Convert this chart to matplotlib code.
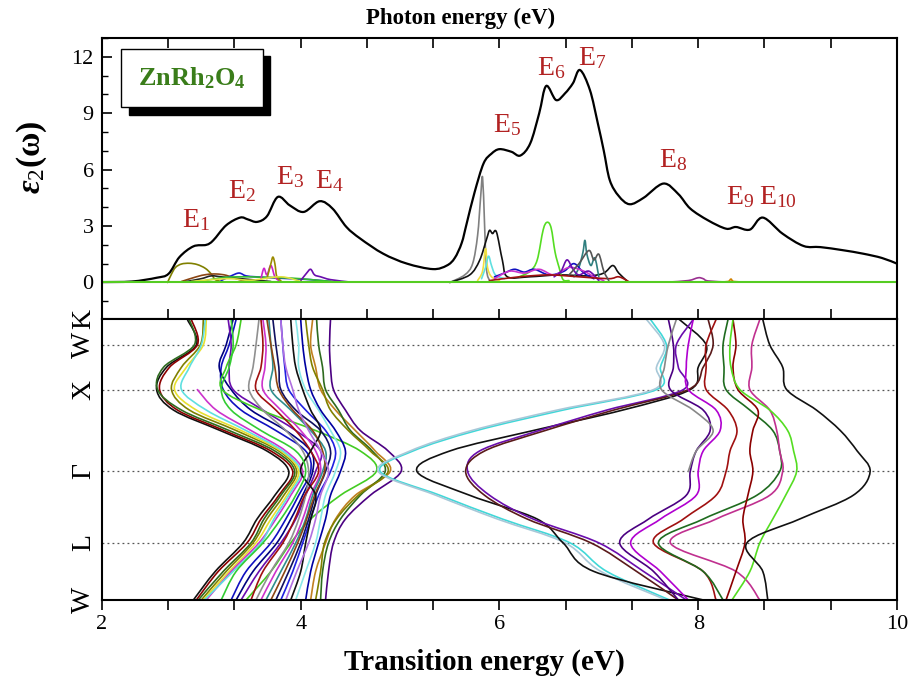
import numpy as np
import matplotlib.pyplot as plt
from matplotlib.patches import Rectangle, PathPatch
from matplotlib.path import Path
from matplotlib.ticker import MultipleLocator, FixedLocator

plt.rcParams['font.family'] = 'serif'
plt.rcParams['font.serif'] = ['Liberation Serif', 'DejaVu Serif']
plt.rcParams['mathtext.fontset'] = 'custom'
plt.rcParams['mathtext.rm'] = 'Liberation Serif'
plt.rcParams['mathtext.it'] = 'Liberation Serif:italic:bold'
plt.rcParams['mathtext.bf'] = 'Liberation Serif:bold'

# ---- total eps2 spectrum (top panel)
energy = [2.0, 2.3, 2.55, 2.67, 2.78, 2.92, 3.05, 3.12, 3.25, 3.39, 3.47, 3.56, 3.66,
          3.77, 3.89, 4.03, 4.19, 4.32, 4.46, 4.60, 4.83, 5.07, 5.33, 5.47, 5.55, 5.62,
          5.67, 5.75, 5.84, 5.92, 6.00, 6.12, 6.21, 6.31, 6.40, 6.47, 6.57, 6.66, 6.74,
          6.81, 6.91, 6.99, 7.05, 7.11, 7.20, 7.31, 7.45, 7.65, 7.80, 7.92, 8.10, 8.28,
          8.38, 8.52, 8.65, 8.85, 9.06, 9.23, 9.45, 9.66, 9.85, 10.0]
eps2 = [0.02, 0.05, 0.25, 0.46, 1.35, 1.92, 2.0, 2.24, 3.04, 3.45, 3.35, 3.22, 3.52,
        4.55, 4.1, 3.75, 4.32, 3.93, 2.95, 2.33, 1.53, 1.0, 0.71, 0.9, 1.3, 2.1,
        3.13, 4.8, 6.33, 6.85, 7.09, 6.95, 6.75, 7.4, 9.0, 10.45, 9.7, 10.06, 10.6,
        11.3, 10.24, 8.46, 7.0, 5.44, 4.6, 4.16, 4.5, 5.26, 4.7, 3.93, 3.3, 2.86,
        2.95, 2.81, 3.45, 2.59, 1.94, 1.88, 1.72, 1.53, 1.3, 1.0]

peak_labels = ['E$_1$', 'E$_2$', 'E$_3$', 'E$_4$', 'E$_5$', 'E$_6$', 'E$_7$',
               'E$_8$', 'E$_9$', 'E$_{10}$']
peak_x = [2.81, 3.27, 3.75, 4.14, 5.94, 6.38, 6.79, 7.61, 8.28, 8.61]
peak_y = [2.95, 4.51, 5.23, 5.0, 8.02, 11.04, 11.57, 6.15, 4.16, 4.16]

# band-resolved contributions (top panel)
part_E_low = [
    [2.66, 2.70, 2.74, 2.80, 2.88, 2.96, 3.04, 3.10, 3.14, 3.20],
    [2.80, 2.95, 3.05, 3.15, 3.25, 3.35, 3.45],
    [2.85, 3.0, 3.1, 3.2, 3.3, 3.5, 3.7],
    [3.2, 3.3, 3.38, 3.45, 3.55, 3.7, 3.9, 4.1, 4.3],
    [3.0, 3.2, 3.4, 3.6, 3.8, 4.0, 4.2, 4.4],
    [3.60, 3.63, 3.66, 3.70, 3.74, 3.78],
    [3.66, 3.70, 3.72, 3.74, 3.76, 3.80],
    [4.0, 4.06, 4.10, 4.14, 4.2, 4.3, 4.5],
    [2.9, 3.1, 3.3, 3.5, 3.8, 4.0],
]
part_v_low = [
    [0.0, 0.45, 0.8, 0.98, 1.02, 0.95, 0.75, 0.45, 0.15, 0.05],
    [0.05, 0.3, 0.42, 0.45, 0.38, 0.2, 0.05],
    [0.05, 0.2, 0.35, 0.3, 0.25, 0.15, 0.05],
    [0.1, 0.35, 0.5, 0.35, 0.3, 0.25, 0.2, 0.15, 0.05],
    [0.05, 0.25, 0.3, 0.28, 0.25, 0.2, 0.1, 0.03],
    [0.2, 0.75, 0.4, 0.9, 0.3, 0.1],
    [0.2, 1.0, 1.35, 1.0, 0.3, 0.1],
    [0.1, 0.5, 0.7, 0.4, 0.3, 0.15, 0.02],
    [0.05, 0.15, 0.2, 0.12, 0.3, 0.05],
]
part_c_low = ['#808000', '#8b4513', '#222222', '#1a1acc', '#33bb33', '#cc22cc',
              '#9a8a00', '#6a0dad', '#e0e040']

part_E_high = [
    [5.50, 5.65, 5.73, 5.78, 5.81, 5.83, 5.85, 5.87, 5.90],
    [5.50, 5.70, 5.80, 5.87, 5.90, 5.93, 5.97, 6.03, 6.08, 6.3, 6.6, 6.9, 7.05, 7.14, 7.2, 7.28],
    [5.78, 5.83, 5.86, 5.88, 5.92, 6.0],
    [5.82, 5.86, 5.89, 5.92, 5.96, 6.05],
    [6.2, 6.31, 6.38, 6.44, 6.48, 6.52, 6.56, 6.60, 6.64, 6.7],
    [6.75, 6.80, 6.84, 6.86, 6.88, 6.92, 6.96, 7.0],
    [5.95, 6.05, 6.15, 6.25, 6.35, 6.5, 6.65, 6.75, 6.85, 6.95],
    [5.95, 6.1, 6.25, 6.4, 6.55, 6.7, 6.85, 6.95, 7.05],
    [6.55, 6.62, 6.68, 6.74, 6.8, 6.9, 7.0],
    [5.9, 6.2, 6.5, 6.8, 7.1, 7.2, 7.3],
    [6.7, 6.8, 6.9, 6.95, 7.0, 7.05, 7.1],
    [7.7, 7.9, 8.0, 8.05, 8.1, 8.3],
    [8.2, 8.3, 8.33, 8.36, 8.5],
]
part_v_high = [
    [0.0, 0.4, 1.0, 2.5, 4.5, 5.6, 3.1, 0.7, 0.1],
    [0.0, 0.4, 1.17, 2.3, 2.77, 2.6, 2.68, 1.17, 0.3, 0.3, 0.4, 0.35, 0.5, 0.9, 0.5, 0.1],
    [0.1, 0.6, 1.8, 0.8, 0.3, 0.1],
    [0.2, 0.8, 1.4, 0.9, 0.4, 0.2],
    [0.3, 0.6, 1.2, 2.8, 3.2, 2.9, 1.6, 0.8, 0.15, 0.1],
    [0.3, 0.8, 1.6, 2.24, 1.5, 0.9, 1.3, 0.3],
    [0.3, 0.5, 0.7, 0.55, 0.7, 0.4, 0.6, 1.0, 0.5, 0.2],
    [0.2, 0.6, 0.5, 0.7, 0.4, 0.8, 0.6, 0.3, 0.1],
    [0.3, 0.6, 1.2, 0.7, 0.4, 0.6, 0.1],
    [0.1, 0.3, 0.4, 0.3, 0.2, 0.3, 0.05],
    [0.4, 1.0, 1.7, 1.2, 1.5, 0.6, 0.1],
    [0.02, 0.1, 0.25, 0.2, 0.08, 0.02],
    [0.02, 0.05, 0.18, 0.05, 0.02],
]
part_c_high = ['#808080', '#111111', '#f0e040', '#60e0e0', '#55dd22', '#2f7f7f',
               '#1010c0', '#cc33cc', '#6a0dad', '#a01010', '#555555', '#9a3090',
               '#d08000']

# ---- transition energies along W-L-G-X-W-K (bottom panel)
k_labels = ['W', 'L', 'Γ', 'X', 'W', 'K']
k_sym = [0.0, 0.57, 1.283, 2.10, 2.547, 2.80]
# each band: energy at W, W-L, L, L-G(1/3), L-G(2/3), G, G-X(1/4), G-X(1/2), G-X(3/4), X, X-W, W, K
bands_low = [
    [2.92, 3.14, 3.42, 3.56, 3.74, 3.88, 3.66, 3.19, 2.72, 2.55, 2.65, 2.95, 2.86],
    [2.95, 3.17, 3.46, 3.60, 3.78, 3.92, 3.70, 3.23, 2.76, 2.58, 2.68, 2.96, 2.90],
    [2.97, 3.22, 3.50, 3.63, 3.80, 3.94, 3.74, 3.28, 2.80, 2.56, 2.62, 2.93, 2.88],
    [3.00, 3.25, 3.52, 3.66, 3.83, 3.96, 3.78, 3.35, 2.88, 2.70, 2.80, 2.99, 3.02],
    [3.02, 3.28, 3.55, 3.70, 3.86, 3.98, 3.80, 3.40, 2.95, 2.73, 2.85, 3.02, 3.05],
    [3.05, 3.30, 3.58, 3.75, 3.90, 4.02, 3.85, 3.50, 3.15, 2.96, np.nan, np.nan, np.nan],
    [3.03, 3.32, 3.60, 3.73, 3.88, 4.00, 3.82, 3.45, 3.05, 2.80, 2.88, 3.00, 3.04],
]
colors_low = ['#111111', '#8b0000', '#2e6b1f', '#808000', '#e8e030', '#cc33cc', '#60e0e0']

bands_mid = [
    [3.30, 3.45, 3.70, 3.85, 3.98, 4.10, 4.05, 3.75, 3.40, 3.22, 3.20, 3.28, 3.35],
    [3.35, 3.52, 3.76, 3.90, 4.02, 4.12, 4.10, 3.85, 3.50, 3.30, 3.18, 3.25, 3.32],
    [3.40, 3.58, 3.80, 3.95, 4.05, 4.15, 4.20, 3.95, 3.62, 3.32, 3.28, 3.30, 3.27],
    [3.45, 3.70, 3.90, 4.10, 4.40, 4.76, 4.60, 4.15, 3.60, 3.21, 3.25, 3.35, 3.40],
    [3.55, 3.70, 3.88, 3.98, 4.05, 4.08, 4.02, 3.85, 3.62, 3.48, 3.52, 3.55, 3.58],
    [3.50, 3.62, 3.82, 3.94, 4.04, 4.18, 4.10, 3.95, 3.75, 3.55, 3.60, 3.62, 3.60],
    [3.60, 3.75, 3.92, 4.02, 4.10, 4.20, 4.15, 4.00, 3.80, 3.62, 3.64, 3.65, 3.62],
    [3.65, 3.80, 3.95, 4.05, 4.12, 4.22, 4.25, 4.10, 3.90, 3.70, 3.72, 3.70, 3.68],
    [3.75, 3.88, 4.00, 4.08, 4.15, 4.25, 4.30, 4.20, 3.95, 3.80, 3.78, 3.75, 3.72],
    [3.70, 3.84, 3.97, 4.06, 4.14, 4.24, 4.22, 4.12, 3.92, 3.78, 3.74, 3.70, 3.66],
    [3.80, 3.92, 4.02, 4.10, 4.18, 4.30, 4.35, 4.25, 4.05, 3.88, 3.84, 3.82, 3.80],
    [3.95, 4.05, 4.15, 4.20, 4.25, 4.35, 4.40, 4.30, 4.18, 4.05, 3.98, 3.98, 3.95],
    [3.90, 4.00, 4.05, 4.10, 4.15, 4.00, 4.10, 4.20, 4.10, 4.02, 3.95, 3.92, 3.90],
    [4.10, 4.15, 4.25, 4.35, 4.55, 4.90, 4.75, 4.55, 4.35, 4.20, 4.15, 4.10, 4.12],
    [4.25, 4.28, 4.33, 4.45, 4.70, 5.01, 4.88, 4.60, 4.45, 4.33, 4.30, 4.29, 4.30],
    [4.20, 4.22, 4.28, 4.40, 4.60, 4.85, 4.72, 4.50, 4.38, 4.25, 4.22, 4.18, 4.16],
    [4.15, 4.20, 4.24, 4.36, 4.58, 4.88, 4.70, 4.48, 4.30, 4.22, 4.12, 4.08, 4.05],
    [3.85, 3.96, 4.08, 4.15, 4.20, 4.28, 4.20, 4.08, 3.98, 3.92, 3.85, 3.82, 3.80],
    [3.20, 3.35, 3.62, 3.80, 3.95, 4.05, 3.95, 3.60, 3.30, 3.20, 3.28, 3.32, 3.30],
    [4.05, 4.10, 4.18, 4.25, 4.30, 4.40, 4.45, 4.35, 4.20, 4.10, 4.05, 4.02, 4.00],
]
colors_mid = ['#1010c0', '#000080', '#6a0dad', '#44cc22', '#909090', '#a01010',
              '#cc33cc', '#2f8f8f', '#101060', '#8b4513', '#2020e0', '#88e8e8',
              '#111111', '#c08020', '#4b0082', '#2e6b1f', '#808000', '#b070e0',
              '#33cc33', '#0000a0']

bands_cross = [
    [7.71, 7.08, 6.71, 6.03, 5.40, 4.80, 5.13, 5.77, 6.64, 7.58, 7.62, 7.68, 7.52],
    [7.68, 7.02, 6.66, 5.98, 5.36, 4.78, 5.10, 5.72, 6.58, 7.55, 7.58, 7.66, 7.48],
    [8.05, 6.95, 6.64, 6.38, 5.70, 5.17, 5.50, 6.34, 7.24, 7.92, 8.00, 8.08, 7.81],
    [7.88, 7.45, 7.00, 6.34, 5.90, 5.68, 5.80, 6.40, 7.08, 7.85, 7.80, 7.78, 7.95],
    [7.80, 7.38, 6.92, 6.28, 5.85, 5.66, 5.85, 6.46, 7.15, 7.90, 8.05, 8.15, 8.10],
]
colors_cross = ['#40d8d8', '#a8c8d8', '#111111', '#6a0dad', '#5a1a1a']

bands_high = [
    [7.80, 7.55, 7.21, 7.50, 7.88, 7.92, 7.98, 8.12, 8.05, 7.72, 7.75, 7.75, 7.70],
    [7.90, 7.62, 7.32, 7.62, 7.98, 8.00, 8.05, 8.22, 8.18, 7.90, 7.88, 7.90, 7.95],
    [np.nan, np.nan, np.nan, np.nan, np.nan, 7.90, 7.98, 8.15, 7.95, 7.63, 7.66, 7.70, 7.78],
    [8.18, 8.05, 7.55, 7.85, 8.18, 8.28, 8.32, 8.39, 8.30, 8.08, 8.08, 8.08, 8.18],
    [8.25, 8.05, 7.60, 8.05, 8.59, 8.82, 8.82, 8.75, 8.52, 8.28, 8.26, 8.25, 8.30],
    [8.62, 8.38, 7.72, 8.18, 8.72, 8.85, 8.82, 8.79, 8.72, 8.52, 8.54, 8.54, 8.62],
    [8.28, 8.38, 8.47, 8.45, 8.50, 8.55, 8.52, 8.55, 8.60, 8.40, 8.35, 8.38, 8.35],
    [8.34, 8.52, 8.62, 8.75, 8.88, 8.99, 8.96, 8.90, 8.72, 8.42, 8.33, 8.32, 8.35],
    [8.70, 8.65, 8.49, 9.02, 9.56, 9.73, 9.60, 9.43, 9.19, 8.89, 8.85, 8.72, 8.65],
]
colors_high = ['#4b0082', '#b000d0', '#888888', '#a01010', '#1f6b1f', '#c0308f',
               '#8b0000', '#55dd22', '#111111']


def smooth_line(ax, xs, ys, color, lw):
    # draw the points as a smooth curve (Catmull-Rom segments as cubic Beziers)
    xs = np.asarray(xs, float)
    ys = np.asarray(ys, float)
    ok = ~(np.isnan(xs) | np.isnan(ys))
    idx = np.where(ok)[0]
    if len(idx) == 0:
        return
    runs = np.split(idx, np.where(np.diff(idx) > 1)[0] + 1)
    for r in runs:
        p = np.column_stack([xs[r], ys[r]])
        if len(p) < 2:
            continue
        pe = np.vstack([p[0], p, p[-1]])
        verts = [p[0]]
        codes = [Path.MOVETO]
        for i in range(len(p) - 1):
            p0, p1, p2, p3 = pe[i], pe[i + 1], pe[i + 2], pe[i + 3]
            verts += [p1 + (p2 - p0) / 6, p2 - (p3 - p1) / 6, p2]
            codes += [Path.CURVE4] * 3
        ax.add_patch(PathPatch(Path(verts, codes), fill=False, edgecolor=color,
                               lw=lw, capstyle='round', joinstyle='round'))


# ---- figure
fig = plt.figure(figsize=(9.12, 6.89), dpi=100)
ax1 = fig.add_axes([0.1118, 0.5363, 0.8717, 0.4085])
ax2 = fig.add_axes([0.1118, 0.1292, 0.8717, 0.4071])

# top panel
for E, v, c in zip(part_E_low, part_v_low, part_c_low):
    smooth_line(ax1, E, v, c, 1.2)
for E, v, c in zip(part_E_high, part_v_high, part_c_high):
    smooth_line(ax1, E, v, c, 1.2)
ax1.axhline(0, color='#55cc22', lw=1.5)
smooth_line(ax1, energy, eps2, 'black', 1.6)

for lab, x, y in zip(peak_labels, peak_x, peak_y):
    ax1.text(x, y, lab, color='#b22222', fontsize=20, ha='left', va='baseline')

ax1.set_xlim(2, 10)
ax1.set_ylim(-1.97, 13.0)
ax1.yaxis.set_major_locator(FixedLocator([0, 3, 6, 9, 12]))
ax1.yaxis.set_minor_locator(MultipleLocator(1))
ax1.xaxis.set_major_locator(MultipleLocator(2 / 3))
ax1.tick_params(axis='both', which='both', direction='in', top=True, bottom=True,
                left=True, right=False, labelbottom=False)
ax1.tick_params(axis='y', which='major', length=7, width=1.2, labelsize=16, pad=6)
ax1.tick_params(axis='y', which='minor', length=4, width=1.0)
ax1.tick_params(axis='x', which='major', length=7, width=1.2)
for s in ax1.spines.values():
    s.set_linewidth(1.5)

# compound label with shadow
ax1.add_patch(Rectangle((0.034, 0.728), 0.178, 0.207, transform=ax1.transAxes,
                        facecolor='black', edgecolor='black', zorder=5))
ax1.add_patch(Rectangle((0.024, 0.754), 0.178, 0.207, transform=ax1.transAxes,
                        facecolor='white', edgecolor='black', lw=1, zorder=6))
ax1.text(0.113, 0.857, r'ZnRh$_\mathbf{2}$O$_\mathbf{4}$', transform=ax1.transAxes,
         color='#3a7d1a', fontsize=19, fontweight='bold', ha='center', va='center',
         zorder=7)

# bottom panel
k_nodes = np.concatenate([
    np.linspace(k_sym[0], k_sym[1], 3)[:-1],
    np.linspace(k_sym[1], k_sym[2], 4)[:-1],
    np.linspace(k_sym[2], k_sym[3], 5)[:-1],
    np.linspace(k_sym[3], k_sym[4], 3)[:-1],
    [k_sym[4], k_sym[5]],
])
for group, cols in [(bands_low, colors_low), (bands_mid, colors_mid),
                    (bands_cross, colors_cross), (bands_high, colors_high)]:
    for b, c in zip(group, cols):
        smooth_line(ax2, b, k_nodes, c, 1.2)

for k in k_sym[1:5]:
    ax2.axhline(k, color='#555555', ls=(0, (1.5, 2.5)), lw=0.9, zorder=0)

ax2.set_xlim(2, 10)
ax2.set_ylim(k_sym[0], k_sym[-1])
ax2.set_yticks(k_sym)
ax2.set_yticklabels(k_labels, rotation=90, va='center', fontsize=20)
ax2.tick_params(axis='y', length=0, pad=4)
ax2.xaxis.set_major_locator(FixedLocator([2, 4, 6, 8, 10]))
ax2.xaxis.set_minor_locator(MultipleLocator(2 / 3))
ax2.tick_params(axis='x', which='major', direction='out', length=7, width=1.2,
                labelsize=16, pad=4)
ax2.tick_params(axis='x', which='minor', direction='out', length=7, width=1.2)
for s in ax2.spines.values():
    s.set_linewidth(1.5)

fig.text(0.5055, 0.974, 'Photon energy (eV)', ha='center', va='center',
         fontsize=16.5, fontweight='bold')
fig.text(0.531, 0.038, 'Transition energy (eV)', ha='center', va='center',
         fontsize=21, fontweight='bold')
fig.text(0.035, 0.771, r'$\varepsilon_{2}$(ω)', rotation=90, ha='center',
         va='center', fontsize=24, fontweight='bold')

fig.savefig('out.png', dpi=100)
